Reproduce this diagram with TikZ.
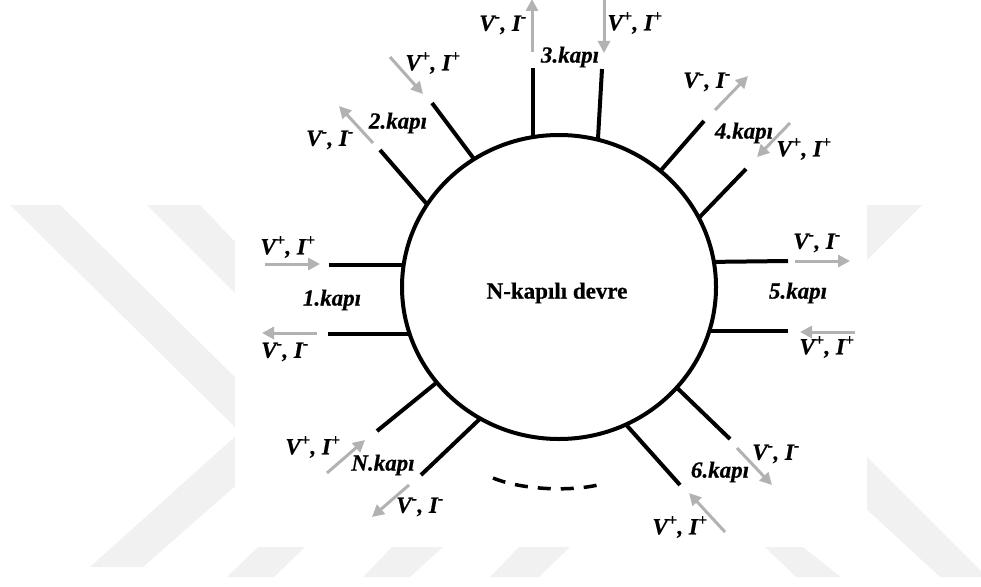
\documentclass[tikz,border=0pt]{standalone}
\usepackage{fontspec}
\setmainfont{Liberation Serif}[BoldFeatures={FakeBold=0.6},BoldItalicFeatures={FakeBold=0.6}]
\usetikzlibrary{arrows.meta,shapes.geometric}
\definecolor{arrgray}{RGB}{178,178,178}
\definecolor{wmgray}{RGB}{241,241,241}
\newcommand\VIp{V\textsuperscript{+}, I\textsuperscript{+}}
\newcommand\VIm{V\textsuperscript{-}, I\textsuperscript{-}}
\tikzset{
  portline/.style={line width=4pt},
  flow/.style={draw=arrgray, line width=3pt, -{Triangle[length=12pt,width=12pt]}},
  lbl/.style={font=\fontsize{23}{27}\selectfont\bfseries\itshape, inner sep=0pt},
  kapi/.style={font=\fontsize{23}{27}\selectfont\bfseries\itshape, inner sep=0pt},
  wm/.style={fill=wmgray},
  dashpath/.style={line width=3.5pt, dash pattern=on 13pt off 10pt}
}
\begin{document}
\begin{tikzpicture}[x=1pt,y=-1pt]
\useasboundingbox (0,0) rectangle (981,586);
% watermark
\fill[wm] (10,205) -- (60,205) -- (240,382) -- (240,432) -- cycle;
\fill[wm] (90,567) -- (143,567) -- (240,482) -- (240,432) -- cycle;
\fill[wm] (147,205) -- (200,205) -- (240,247) -- (240,298) -- cycle;
\fill[wm] (258,547) -- (305,547) -- (274,577) -- (227,577) -- cycle;
\fill[wm] (392,547) -- (443,547) -- (410,577) -- (363,577) -- cycle;
\fill[wm] (519,547) -- (570,547) -- (539,577) -- (490,577) -- cycle;
\fill[wm] (765,547) -- (803,547) -- (841,577) -- (796,577) -- cycle;
\fill[wm] (862,205) -- (922,205) -- (862,265) -- cycle;
\fill[wm] (862,452) -- (981,571) -- (981,577) -- (940,577) -- (862,505) -- cycle;
\fill[white] (235,0) rectangle (867,545);

% port line end points
\coordinate (p1ao) at (329,265); \coordinate (p1ai) at (412,265);
\coordinate (p1bo) at (328,334); \coordinate (p1bi) at (416,334);
\coordinate (p5ao) at (788,261); \coordinate (p5ai) at (704,262);
\coordinate (p5bo) at (788,331); \coordinate (p5bi) at (700,331);
\coordinate (p3ao) at (533,68);  \coordinate (p3ai) at (533,146);
\coordinate (p3bo) at (602,69);  \coordinate (p3bi) at (597.5,147);
\coordinate (p2ao) at (432,103); \coordinate (p2ai) at (477,163);
\coordinate (p2bo) at (380,150); \coordinate (p2bi) at (432,210);
\coordinate (p4ao) at (704,121); \coordinate (p4ai) at (656,176);
\coordinate (p4bo) at (746,169); \coordinate (p4bi) at (692,225);
\coordinate (p6ao) at (730,439); \coordinate (p6ai) at (671,382);
\coordinate (p6bo) at (680,485); \coordinate (p6bi) at (621,419);
\coordinate (pNao) at (377,431); \coordinate (pNai) at (441,379);
\coordinate (pNbo) at (421,475); \coordinate (pNbi) at (485,414);

\foreach \p in {1a,1b,5a,5b,3a,3b,2a,2b,4a,4b,6a,6b,Na,Nb}
  \draw[portline] (p\p o) -- (p\p i);

% circuit
\node[ellipse, draw, fill=white, line width=4pt, minimum width=314pt, minimum height=304pt, inner sep=0pt] (c) at (559,287) {};
\node[font=\fontsize{23}{27}\selectfont\bfseries, inner sep=0pt] (title) at (557,293) {N-kapılı devre};

% arrow end points
\coordinate (a1ps) at (265,264); \coordinate (a1pe) at (320,264);
\coordinate (a1ms) at (317,333); \coordinate (a1me) at (262,333);
\coordinate (a5ms) at (795,261); \coordinate (a5me) at (850,261);
\coordinate (a5ps) at (855,332); \coordinate (a5pe) at (800,332);
\coordinate (a3ms) at (532,52);  \coordinate (a3me) at (532,-1);
\coordinate (a3ps) at (604,-2);  \coordinate (a3pe) at (604,53);
\coordinate (a2ps) at (390,57);  \coordinate (a2pe) at (423,94);
\coordinate (a2ms) at (373,143); \coordinate (a2me) at (339,106);
\coordinate (a4ms) at (715,110); \coordinate (a4me) at (748,76);
\coordinate (a4ps) at (790,123); \coordinate (a4pe) at (757,157);
\coordinate (a6ms) at (737,448); \coordinate (a6me) at (772,485);
\coordinate (a6ps) at (725,532); \coordinate (a6pe) at (689,493);
\coordinate (aNps) at (327,473); \coordinate (aNpe) at (365,440);
\coordinate (aNms) at (409,485); \coordinate (aNme) at (372,517);

\foreach \a in {1p,1m,5m,5p,3m,3p,2p,2m,4m,4p,6m,6p,Np,Nm}
  \draw[flow] (a\a s) -- (a\a e);

% labels
\node[lbl] (l1p) at (288,247) {\VIp};
\node[kapi] (k1) at (332,300) {1.kapı};
\node[lbl] (l1m) at (285,352) {\VIm};
\node[lbl] (l5m) at (817,243) {\VIm};
\node[kapi] (k5) at (798,293) {5.kapı};
\node[lbl] (l5p) at (827,347) {\VIp};
\node[lbl] (l3m) at (503,25) {\VIm};
\node[kapi] (k3) at (570,57) {3.kapı};
\node[lbl] (l3p) at (635,23) {\VIp};
\node[lbl] (l2p) at (433,63) {\VIp};
\node[kapi] (k2) at (398,123) {2.kapı};
\node[lbl] (l2m) at (330,140) {\VIm};
\node[lbl] (l4m) at (707,82) {\VIm};
\node[kapi] (k4) at (744,133) {4.kapı};
\node[lbl] (l4p) at (804,149) {\VIp};
\node[lbl] (l6m) at (776,454) {\VIm};
\node[kapi] (k6) at (720,472) {6.kapı};
\node[lbl] (l6p) at (680,527) {\VIp};
\node[lbl] (lNp) at (313,447) {\VIp};
\node[kapi] (kN) at (383,465) {N.kapı};
\node[lbl] (lNm) at (420,507) {\VIm};

% dashed arc (more ports)
\coordinate (d1) at (493,478);
\coordinate (d2) at (602,484);
\draw[dashpath] (d1) .. controls (522,490) and (572,492) .. (d2);
\end{tikzpicture}
\end{document}
